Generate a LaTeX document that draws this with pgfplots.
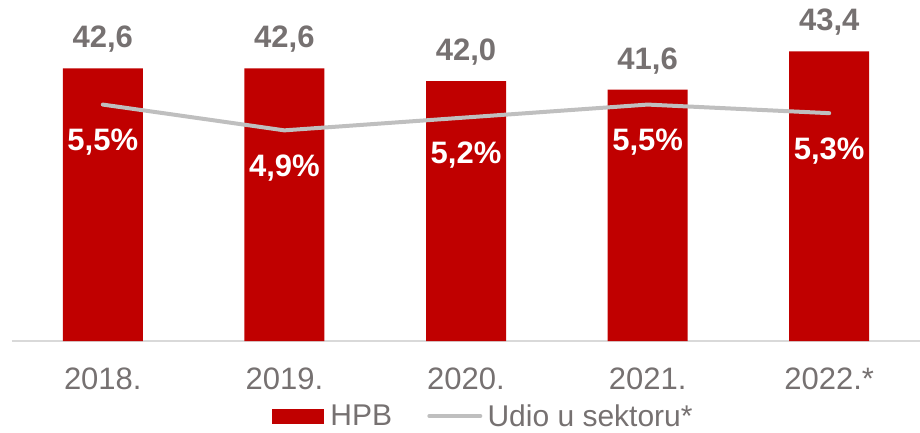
\documentclass[border=0pt]{standalone}
\usepackage{pgfplots}
\pgfplotsset{compat=1.18}
\usepackage{fontspec}
\setmainfont{Liberation Sans}
\definecolor{hpbred}{HTML}{C00000}
\definecolor{linegray}{HTML}{BFBFBF}
\definecolor{txtgray}{HTML}{767171}
\definecolor{axgray}{HTML}{D9D9D9}
\begin{document}
\begin{tikzpicture}
\useasboundingbox (-12pt,-92pt) rectangle (908pt,341pt);
\begin{axis}[
 at={(0pt,0pt)}, anchor=south west,
 scale only axis, width=908pt, height=331pt,
 xmin=-0.5, xmax=4.5, ymin=29.8, ymax=45.34,
 axis x line*=bottom, axis y line=none,
 x axis line style={axgray, line width=2pt, -},
 xtick={0,1,2,3,4}, xticklabels={2018.,2019.,2020.,2021.,2022.*},
 major tick length=0pt, ytick=\empty,
 xticklabel style={anchor=center, yshift=-38pt, font=\fontsize{31}{31}\selectfont, text=txtgray},
 ybar, bar width=80pt, clip=false,
 nodes near coords,
 every node near coord/.append style={anchor=center, yshift=29pt, font=\fontsize{31}{31}\selectfont\bfseries, text=txtgray},
 /pgf/number format/use comma, /pgf/number format/fixed, /pgf/number format/fixed zerofill, /pgf/number format/precision=1, /pgf/number format/assume math mode=true,
 legend columns=2,
 legend style={at={(0.5182,-0.2266)}, anchor=center, draw=none, fill=none, inner sep=0pt, column sep=0pt, row sep=0pt,
   font=\fontsize{30}{30}\selectfont, text=txtgray, nodes={inner xsep=0pt, inner ysep=1pt}},
]
\addplot[fill=hpbred, draw=none, legend image code/.code={\fill[hpbred] (0pt,-7.5pt) rectangle (52pt,7.5pt); \path (58pt,0pt);}] coordinates {(0,42.6) (1,42.6) (2,42.0) (3,41.6) (4,43.4)};
\addlegendentry{HPB}
\addlegendimage{legend image code/.code={\path (-35pt,0pt); \draw[linegray, line width=4pt, line cap=round] (2pt,0pt) -- (53pt,0pt); \path (60pt,0pt);}}
\addlegendentry{Udio u sektoru*}
\end{axis}
\begin{axis}[
 at={(0pt,0pt)}, anchor=south west,
 scale only axis, width=908pt, height=331pt,
 xmin=-0.5, xmax=4.5, ymin=0, ymax=7.70,
 axis lines=none, xtick=\empty, ytick=\empty, clip=false,
 nodes near coords={\pgfmathprintnumber{\pgfplotspointmeta}\%},
 point meta=y,
 every node near coord/.append style={anchor=center, yshift=-38pt, font=\fontsize{31}{31}\selectfont\bfseries, text=white},
 /pgf/number format/use comma, /pgf/number format/fixed, /pgf/number format/fixed zerofill, /pgf/number format/precision=1, /pgf/number format/assume math mode=true,
]
\addplot[linegray, line width=4pt, line cap=round, line join=round, mark=none] coordinates {(0,5.5) (1,4.9) (2,5.2) (3,5.5) (4,5.3)};
\end{axis}
\end{tikzpicture}
\end{document}
